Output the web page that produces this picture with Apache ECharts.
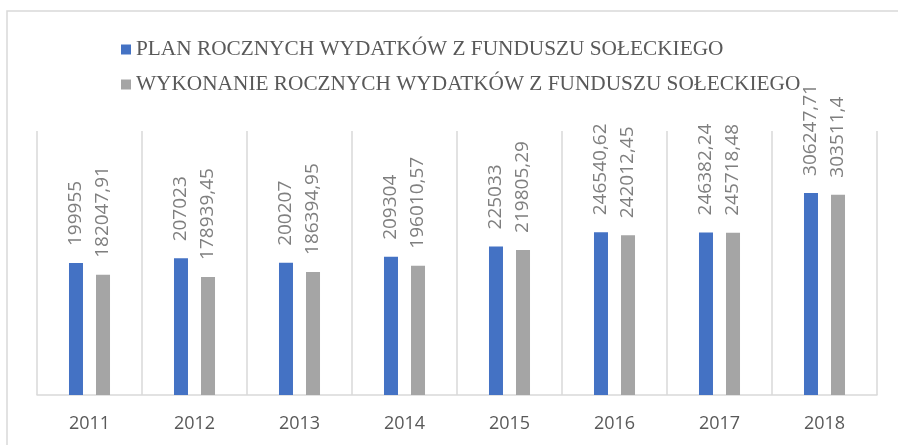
<!DOCTYPE html>
<html><head><meta charset="utf-8">
<script src="https://cdn.jsdelivr.net/npm/echarts@6/dist/echarts.min.js"></script>
<style>html,body{margin:0;padding:0;background:#fff}#c{width:898px;height:445px}</style>
</head><body><div id="c"></div>
<script>
const categories = ['2011','2012','2013','2014','2015','2016','2017','2018'];
const seriesNames = ['PLAN ROCZNYCH WYDATKÓW Z FUNDUSZU SOŁECKIEGO','WYKONANIE ROCZNYCH WYDATKÓW Z FUNDUSZU SOŁECKIEGO'];
const planValues = [199955, 207023, 200207, 209304, 225033, 246540.62, 246382.24, 306247.71];
const executionValues = [182047.91, 178939.45, 186394.95, 196010.57, 219805.29, 242012.45, 245718.48, 303511.4];

const chart = echarts.init(document.getElementById('c'), null, {renderer:'canvas'});
const fmt = p => String(p.value).replace('.', ',');
const labelCfg = {
  show: true, position: 'top', rotate: 90, align: 'left', verticalAlign: 'middle',
  distance: 17, formatter: fmt, color: '#7f7f7f', fontSize: 19, fontFamily: 'Open Sans'
};
chart.setOption({
  animation: false,
  graphic: [{type:'rect', shape:{x:7, y:11, width:1000, height:600}, style:{fill:'none', stroke:'#d9d9d9', lineWidth:1.5}, silent:true}],
  legend: {
    orient: 'vertical', left: 116, top: 34, itemGap: 14, itemWidth: 10, itemHeight: 10, icon: 'rect',
    textStyle: {fontFamily: 'Liberation Serif', fontSize: 21.3, color: '#595959'},
    data: seriesNames
  },
  grid: {left: 37, right: 21, top: 131, bottom: 50, containLabel: false},
  xAxis: {
    type: 'category', data: categories, boundaryGap: true,
    axisLine: {lineStyle: {color: '#d9d9d9', width: 1.5}},
    axisTick: {show: false},
    splitLine: {show: true, lineStyle: {color: '#d9d9d9', width: 1.5}},
    axisLabel: {color: '#595959', fontSize: 18, fontFamily: 'Open Sans', margin: 20}
  },
  yAxis: {type: 'value', min: 0, max: 400000, show: false, splitLine: {show: false}},
  series: [
    {name: seriesNames[0], type: 'bar', data: planValues, barWidth: 14, barGap: '93%', itemStyle: {color: '#4472c4'}, label: labelCfg},
    {name: seriesNames[1], type: 'bar', data: executionValues, barWidth: 14, itemStyle: {color: '#a5a5a5'}, label: labelCfg}
  ]
});
</script></body></html>
